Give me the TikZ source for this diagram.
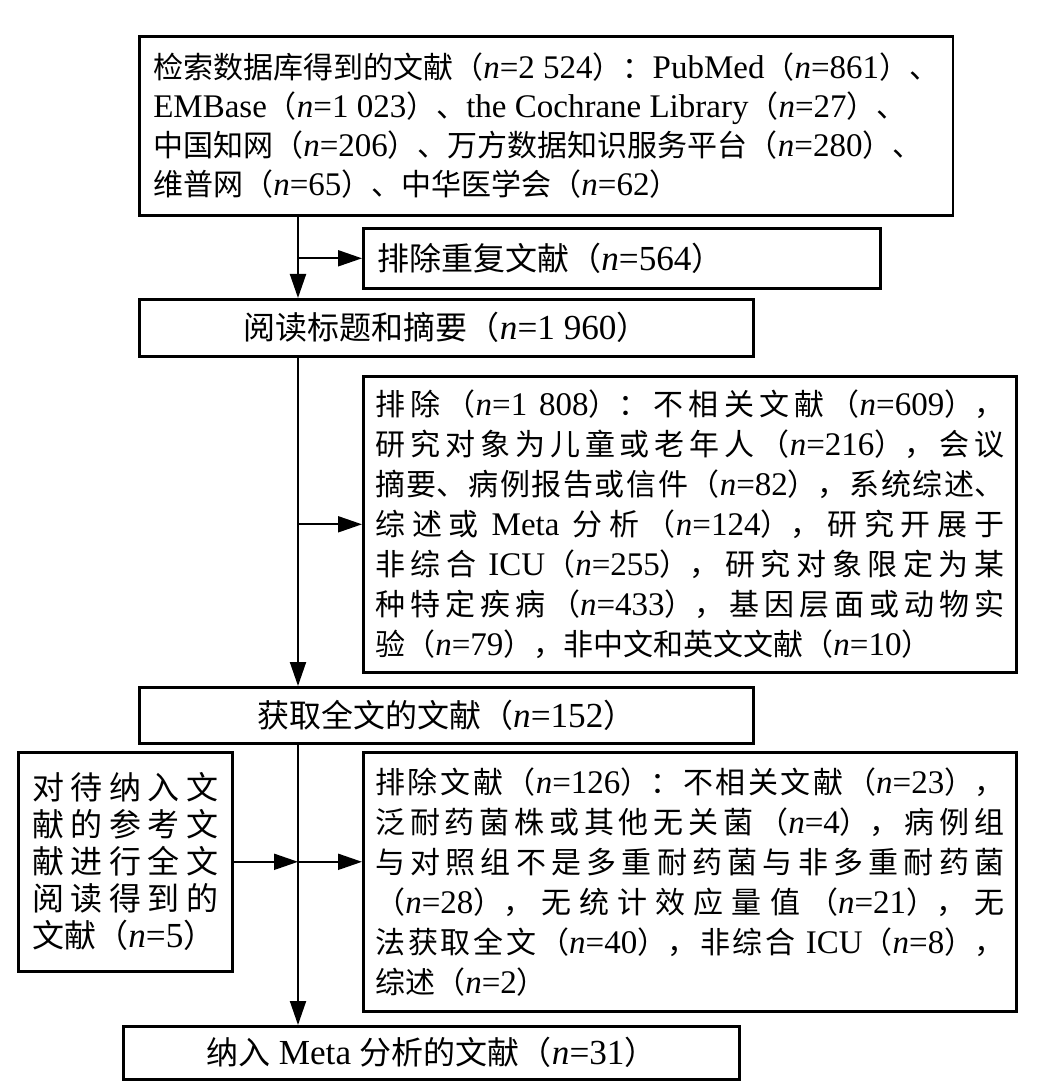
\documentclass[tikz,border=0pt]{standalone}
\usepackage{fontspec}
\setmainfont{Liberation Serif}[Scale=1.1]
\newfontfamily\cjkfont{Noto Sans CJK SC}
\usetikzlibrary{arrows.meta}
\newcommand{\nn}[1]{\textit{n}=#1}
% switch to the CJK font for Chinese characters
\newXeTeXintercharclass\cjkclass
\newcount\cjkcnt
\newcommand{\cjkrange}[2]{\cjkcnt=#1\relax
  \loop\XeTeXcharclass\cjkcnt=\cjkclass\relax
  \ifnum\cjkcnt<#2\relax\advance\cjkcnt by 1\relax\repeat}
\cjkrange{"3000}{"303F}
\cjkrange{"4E00}{"9FFF}
\cjkrange{"FF00}{"FFEF}
\XeTeXinterchartoks 0 \cjkclass = {\cjkfont}
\XeTeXinterchartoks 4095 \cjkclass = {\cjkfont}
\XeTeXinterchartoks \cjkclass 0 = {\rmfamily}
\XeTeXinterchartoks \cjkclass 4095 = {\rmfamily}
\XeTeXinterchartokenstate=1
\XeTeXlinebreaklocale "zh"
\XeTeXlinebreakskip=0pt plus 3pt
\tolerance=10000
\hbadness=10000

\begin{document}
\begin{tikzpicture}[x=0.5pt,y=-0.5pt]
\tikzstyle{box}=[draw,line width=1.3pt,anchor=north west,inner xsep=7pt,inner ysep=0pt,font=\fontsize{16pt}{18.5pt}\selectfont]
\tikzstyle{exbox}=[box,inner xsep=6pt,text width=314.5pt,align=justify,font=\fontsize{15pt}{20pt}\selectfont]
\tikzstyle{arr}=[line width=1pt,-{Triangle[length=12pt,width=8pt]}]
\useasboundingbox (0,0) rectangle (1040,1090);
\coordinate (spine) at (298,0);
\node[box,minimum width=406pt,minimum height=89.5pt,align=left,font=\fontsize{15pt}{19.5pt}\selectfont] (db) at (138,35) {检索数据库得到的文献（\nn{2~524}）：PubMed（\nn{861}）、\\
EMBase（\nn{1~023}）、the Cochrane Library（\nn{27}）、\\
中国知网（\nn{206}）、万方数据知识服务平台（\nn{280}）、\\
维普网（\nn{65}）、中华医学会（\nn{62}）};
\node[box,text width=244.5pt,align=left,minimum height=30pt] (dup) at (362,227) {排除重复文献（\nn{564}）};
\node[box,minimum width=307pt,minimum height=28.5pt] (scr) at (138,298) {阅读标题和摘要（\nn{1~960}）};
\node[exbox,minimum height=148pt] (ex1) at (362,375) {排除（\nn{1~808}）：不相关文献（\nn{609}），\linebreak
研究对象为儿童或老年人（\nn{216}），会议\linebreak
摘要、病例报告或信件（\nn{82}），系统综述、\linebreak
综述或 Meta 分析（\nn{124}），研究开展于\linebreak
非综合 ICU（\nn{255}），研究对象限定为某\linebreak
种特定疾病（\nn{433}），基因层面或动物实\linebreak
验（\nn{79}），非中文和英文文献（\nn{10}）};
\node[box,minimum width=307pt,minimum height=28pt] (full) at (138,686) {获取全文的文献（\nn{152}）};
\node[box,text width=93pt,align=justify,minimum height=109.5pt] (ref) at (17,751) {对待纳入文\linebreak 献的参考文\linebreak 献进行全文\linebreak 阅读得到的\linebreak 文献（\nn{5}）};
\node[exbox,minimum height=129.5pt] (ex2) at (362,751) {排除文献（\nn{126}）：不相关文献（\nn{23}），\linebreak
泛耐药菌株或其他无关菌（\nn{4}），病例组\linebreak
与对照组不是多重耐药菌与非多重耐药菌\linebreak
（\nn{28}），无统计效应量值（\nn{21}），无\linebreak
法获取全文（\nn{40}），非综合 ICU（\nn{8}），\linebreak
综述（\nn{2}）};
\node[box,minimum width=308pt,minimum height=26.5pt] (incl) at (122,1025) {纳入 Meta 分析的文献（\nn{31}）};
% main flow and side arrows
\draw[arr] (db.south -| spine) -- (scr.north -| spine);
\draw[arr] (spine |- dup.west) -- (dup.west);
\draw[arr] (scr.south -| spine) -- (full.north -| spine);
\draw[arr] (spine |- ex1.west) -- (ex1.west);
\draw[arr] (full.south -| spine) -- (incl.north -| spine);
\draw[arr] (ref.east) -- (spine |- ref.east);
\draw[arr] (spine |- ref.east) -- (ex2.west |- ref.east);
\end{tikzpicture}
\end{document}
